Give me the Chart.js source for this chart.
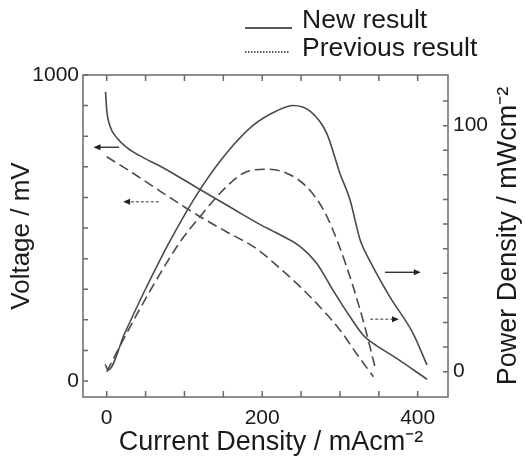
<!DOCTYPE html>
<html>
<head>
<meta charset="utf-8">
<script src="https://cdn.jsdelivr.net/npm/chart.js@4.4.1/dist/chart.umd.min.js"></script>
<style>
  body { margin: 0; background: #fff; }
  #wrap { width: 526px; height: 461px; }
</style>
</head>
<body>
<div id="wrap"><canvas id="fuelCell" width="526" height="461"></canvas></div>
<script>
{
  /* Data */
  const newVoltageX = [-1.5, 0, 4, 13, 26, 47, 69, 120, 163, 197, 223, 249, 270, 291, 313, 330, 337, 373, 412];
  const newVoltageY = [945, 886, 835, 795, 763, 730, 702, 626, 562, 512, 478, 439, 385, 297, 210, 150, 134, 74, 6];

  const prevVoltageX = [0, 34, 69, 103, 120, 154, 193, 223, 249, 274, 300, 321, 343];
  const prevVoltageY = [733, 679, 620, 564, 537, 488, 432, 368, 308, 243, 167, 91, 14];

  const newPowerX = [-2, 2, 23, 49, 82, 120, 154, 189, 219, 240, 262, 283, 300, 313, 326, 339, 364, 394, 412];
  const newPowerY = [3, 0.7, 15.5, 33, 53.5, 74, 88.8, 100.3, 106.1, 108.2, 105.8, 96.9, 80.6, 69.8, 53.5, 44.7, 30.5, 15.6, 2.7];

  const prevPowerX = [0, 28, 56, 96, 120, 154, 180, 206, 232, 257, 279, 298, 317, 332, 345];
  const prevPowerY = [0, 17, 33, 53.5, 63, 75.2, 81.3, 82.3, 80.6, 75.2, 65.7, 52, 34.5, 18.3, 2];

  const currentTicks = [0, 50, 100, 150, 200, 250, 300, 350, 400];
  const currentLabels = [0, 200, 400];
  const voltageTicks = [0, 100, 200, 300, 400, 500, 600, 700, 800, 900, 1000];
  const voltageLabels = [0, 1000];
  const powerTicks = [0, 10, 20, 30, 40, 50, 60, 70, 80, 90, 100, 110];
  const powerLabels = [0, 100];

  const seriesNames = ['New result', 'Previous result'];
  const xTitle = 'Current Density / mAcm\u207B\u00B2';
  const powerTitle = 'Power Density / mWcm\u207B\u00B2';

  const FONT = '"Liberation Sans", Arial, sans-serif';
  const ink = '#1a1a1a';
  const lineColor = '#4a4a4a';
  const frameColor = '#6a6a6a';
  const dash = [10, 5];

  const pts = (xs, ys) => xs.map((x, i) => ({x: x, y: ys[i]}));

  const line = (data, axis, dashed) => ({
    data: data,
    yAxisID: axis,
    borderColor: lineColor,
    borderWidth: 1.6,
    borderDash: dashed ? dash : [],
    pointRadius: 0,
    cubicInterpolationMode: 'monotone',
    fill: false
  });

  const fixTicks = (values) => (scale) => {
    scale.ticks = values.map(v => ({value: v}));
  };

  const showOnly = (labels) => (value) => labels.includes(value) ? String(value) : '';

  /* frame, inward tick marks, arrows, legend and the two titles */
  const decorations = {
    id: 'decorations',
    afterDraw(chart) {
      const {ctx, chartArea: a, scales} = chart;
      const tl = 6;
      ctx.save();
      ctx.strokeStyle = frameColor;
      ctx.lineWidth = 1.5;
      ctx.strokeRect(a.left, a.top, a.right - a.left, a.bottom - a.top);

      ctx.beginPath();
      for (const t of scales.x.ticks) {
        const px = scales.x.getPixelForValue(t.value);
        ctx.moveTo(px, a.bottom); ctx.lineTo(px, a.bottom - tl);
        ctx.moveTo(px, a.top); ctx.lineTo(px, a.top + tl);
      }
      for (const t of scales.yV.ticks) {
        const py = scales.yV.getPixelForValue(t.value);
        ctx.moveTo(a.left, py); ctx.lineTo(a.left + tl - 1, py);
      }
      for (const t of scales.yP.ticks) {
        const py = scales.yP.getPixelForValue(t.value);
        ctx.moveTo(a.right, py); ctx.lineTo(a.right - tl + 1, py);
      }
      ctx.stroke();

      // arrows telling which axis each curve belongs to
      const arrow = (x1, x2, y, scaleY, dotted) => {
        const X1 = scales.x.getPixelForValue(x1);
        const X2 = scales.x.getPixelForValue(x2);
        const Y = scales[scaleY].getPixelForValue(y);
        const dir = Math.sign(X2 - X1);
        ctx.strokeStyle = dotted ? '#777' : '#333';
        ctx.fillStyle = '#222';
        ctx.lineWidth = 1.4;
        ctx.setLineDash(dotted ? [3, 2] : []);
        ctx.beginPath();
        ctx.moveTo(X1, Y); ctx.lineTo(X2 - dir * 6, Y);
        ctx.stroke();
        ctx.setLineDash([]);
        ctx.beginPath();
        ctx.moveTo(X2, Y);
        ctx.lineTo(X2 - dir * 7, Y - 3);
        ctx.lineTo(X2 - dir * 7, Y + 3);
        ctx.closePath();
        ctx.fill();
      };
      arrow(16, -17, 764, 'yV', false);
      arrow(67, 21, 586, 'yV', true);
      arrow(358, 404, 40.4, 'yP', false);
      arrow(339, 376, 21.3, 'yP', true);

      // legend
      ctx.strokeStyle = '#222';
      ctx.lineWidth = 1.6;
      ctx.beginPath();
      ctx.moveTo(245, 28); ctx.lineTo(292, 28);
      ctx.stroke();
      ctx.setLineDash([1.5, 1.5]);
      ctx.beginPath();
      ctx.moveTo(245, 52); ctx.lineTo(290, 52);
      ctx.stroke();
      ctx.setLineDash([]);
      ctx.fillStyle = ink;
      ctx.font = '26.5px ' + FONT;
      ctx.textAlign = 'left';
      ctx.textBaseline = 'alphabetic';
      ctx.fillText(seriesNames[0], 302, 28);
      ctx.fillText(seriesNames[1], 302, 56);

      // x title
      ctx.font = '27px ' + FONT;
      ctx.textAlign = 'center';
      ctx.textBaseline = 'middle';
      ctx.fillText(xTitle, 271, 443);

      // right axis title, reading bottom to top
      ctx.translate(509, (a.top + a.bottom) / 2);
      ctx.rotate(-Math.PI / 2);
      ctx.fillText(powerTitle, 0, 0);
      ctx.restore();
    }
  };

  function initChart() {
    const ctx = document.getElementById('fuelCell').getContext('2d');

    // eslint-disable-next-line no-undef
    const chart = new Chart(ctx, {
      type: 'line',
      data: {
        datasets: [
          line(pts(newVoltageX, newVoltageY), 'yV', false),
          line(pts(prevVoltageX, prevVoltageY), 'yV', true),
          line(pts(newPowerX, newPowerY), 'yP', false),
          line(pts(prevPowerX, prevPowerY), 'yP', true)
        ]
      },
      options: {
        responsive: false,
        animation: false,
        layout: {padding: {top: 75, left: 0, right: 0, bottom: 0}},
        plugins: {legend: {display: false}, tooltip: {enabled: false}},
        scales: {
          x: {
            type: 'linear',
            min: -30.5,
            max: 439,
            afterBuildTicks: fixTicks(currentTicks),
            afterFit: (s) => { s.height = 64; },
            grid: {display: false, drawTicks: false},
            border: {display: false},
            ticks: {
              autoSkip: false,
              maxRotation: 0,
              padding: 9,
              color: ink,
              font: {family: FONT, size: 21},
              callback: showOnly(currentLabels)
            }
          },
          yV: {
            type: 'linear',
            position: 'left',
            min: -52,
            max: 1000,
            afterBuildTicks: fixTicks(voltageTicks),
            afterFit: (s) => { s.width = 83; },
            grid: {display: false, drawTicks: false},
            border: {display: false},
            ticks: {
              autoSkip: false,
              padding: 4,
              color: ink,
              font: {family: FONT, size: 21},
              callback: showOnly(voltageLabels)
            },
            title: {
              display: true,
              text: 'Voltage / mV',
              color: ink,
              font: {family: FONT, size: 26},
              padding: {top: 6, bottom: 0}
            }
          },
          yP: {
            type: 'linear',
            position: 'right',
            min: -10.3,
            max: 120.6,
            afterBuildTicks: fixTicks(powerTicks),
            afterFit: (s) => { s.width = 78; },
            grid: {display: false, drawTicks: false},
            border: {display: false},
            ticks: {
              autoSkip: false,
              padding: 5,
              color: ink,
              font: {family: FONT, size: 21},
              callback: showOnly(powerLabels)
            }
          }
        }
      },
      plugins: [decorations]
    });
  }

  initChart();
}
</script>
</body>
</html>
